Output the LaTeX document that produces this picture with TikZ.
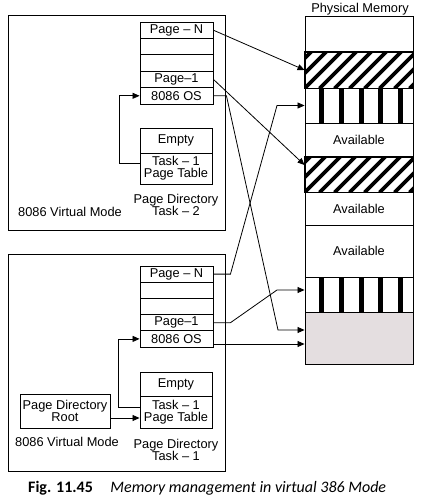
\documentclass[tikz,border=0pt]{standalone}
\usepackage{fontspec}
\setmainfont{Liberation Sans}
\newfontfamily\capfont{Carlito}
\usetikzlibrary{arrows.meta}
\definecolor{stip}{RGB}{228,222,224}
\tikzset{
  box/.style={draw, line width=0.9pt, inner sep=0pt, minimum width=73pt, font=\fontsize{12.8}{14}\selectfont, align=center},
  prow/.style={box, minimum height=16.4pt},
  qrow/.style={box, minimum height=16.2pt},
  mem/.style={draw, line width=0.9pt, inner sep=0pt, minimum width=108pt, font=\fontsize{12.8}{14}\selectfont},
  lab/.style={inner sep=0pt, font=\fontsize{12.8}{14}\selectfont, align=center},
  frame/.style={draw, line width=1pt},
  arr/.style={line width=0.8pt, -{Triangle[length=7pt,width=6pt]}},
  ln/.style={line width=0.8pt},
  hatch/.style={line width=3.8pt},
}
\begin{document}
\begin{tikzpicture}[x=1pt,y=-1pt]
\useasboundingbox (0,0) rectangle (423,501);
\fill[white] (0,0) rectangle (423,501);

% outer frames
\node[frame, minimum width=217pt, minimum height=215pt, inner sep=0pt] (top) at (116.5,122.5) {};
\node[frame, minimum width=217pt, minimum height=217pt, inner sep=0pt] (bot) at (116.5,362.5) {};

% top page directory table
\node[prow] (tN)  at (176.5,30.2) {Page -- N};
\node[prow] (tB1) at (176.5,46.6) {};
\node[prow] (tB2) at (176.5,63.0) {};
\node[prow] (t1)  at (176.5,79.4) {Page--1};
\node[prow] (tOS) at (176.5,95.8) {8086 OS};
\node[box, minimum width=72pt, minimum height=25pt] (tE) at (176,140.5) {Empty};
\node[box, minimum width=72pt, minimum height=31pt] (tT) at (176,168.5) {Task -- 1\\[-2pt]Page Table};
\node[lab] (tlab) at (176,205) {Page Directory\\[-1.5pt]Task -- 2};
\node[lab] (tvm) at (70,212) {8086 Virtual Mode};

% bottom page directory table
\node[qrow] (bN)  at (176.5,274.1) {Page -- N};
\node[qrow] (bB1) at (176.5,290.3) {};
\node[qrow] (bB2) at (176.5,306.5) {};
\node[qrow] (b1)  at (176.5,322.7) {Page--1};
\node[qrow] (bOS) at (176.5,338.9) {8086 OS};
\node[box, minimum width=72pt, minimum height=24pt] (bE) at (176,384) {Empty};
\node[box, minimum width=72pt, minimum height=32pt] (bT) at (176,412) {Task -- 1\\[-2pt]Page Table};
\node[box, minimum width=90pt, minimum height=34pt] (root) at (65,411) {Page Directory\\[-2pt]Root};
\node[lab] (bvm) at (67,442) {8086 Virtual Mode};
\node[lab] (blab) at (176,450) {Page Directory\\[-1.5pt]Task -- 1};

% physical memory
\node[lab] (pm) at (360,9) {Physical Memory};
\node[mem, minimum height=36pt] (m0) at (359,34) {};
\node[mem, minimum height=36pt] (m1) at (359,70) {};
\node[mem, minimum height=35pt] (m2) at (359,105.5) {};
\node[mem, minimum height=34pt] (m3) at (359,140) {Available};
\node[mem, minimum height=35pt] (m4) at (359,174.5) {};
\node[mem, minimum height=33pt] (m5) at (359,208.5) {Available};
\node[mem, minimum height=52pt] (m6) at (359,251) {Available};
\node[mem, minimum height=35pt] (m7) at (359,294.5) {};
\node[mem, minimum height=52pt, fill=stip] (m8) at (359,338) {};

% hatching
\foreach \r in {m1,m4}{
  \begin{scope}
    \clip (\r.south west) rectangle (\r.north east);
    \path (\r.south west) coordinate (sw);
    \foreach \i in {-3,...,8}{
      \draw[hatch] ([xshift=\i*15pt]sw) -- ++(40,-40);
    }
  \end{scope}
  \draw[line width=0.9pt] (\r.south west) rectangle (\r.north east);
}
% vertical bars
\foreach \r in {m2,m7}{
  \foreach \x in {17,37,57,76,96}{
    \fill ([xshift=\x pt-2.5pt]\r.south west) rectangle ([xshift=\x pt+2.5pt]\r.north west);
  }
}

% internal arrows
\draw[arr] ([yshift=5pt]tT.west) -- ++(-20,0) |- (tOS.west);
\draw[arr] ([yshift=5pt]bT.west) -- ++(-21,0) |- (bOS.west);
\draw[arr] ([yshift=-7pt]root.east) -- ([yshift=-7pt]root.east -| bT.west);

% mapping arrows
\draw[arr] (tN.east) -- (m1.west);
\draw[arr] (t1.east) -- ([yshift=9.5pt]m4.west);
\coordinate (k1) at (278,330);
\draw[arr] (tOS.east) -- ++(13,0) -- (k1) -- ([yshift=8pt]m8.west);
\coordinate (k2) at (277,105.5);
\draw[arr] (bN.east) -- ++(17,0) -- (k2) -- (m2.west);
\coordinate (k3) at (277,290);
\draw[arr] (b1.east) -- ++(17,0) -- (k3) -- ([yshift=4.5pt]m7.west);
\draw[arr] ([yshift=-6pt]m8.west -| bOS.east) -- ([yshift=-6pt]m8.west);

% caption
\node[inner sep=0pt, anchor=west, font=\capfont\fontsize{16}{18}\selectfont] (cap) at (28,488) {\textbf{Fig. 11.45}\hspace{1.1em}\textit{Memory management in virtual 386 Mode}};
\end{tikzpicture}
\end{document}
